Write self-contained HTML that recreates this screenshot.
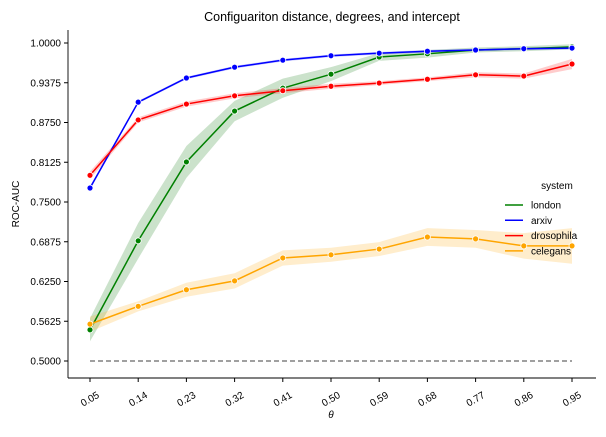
<!DOCTYPE html>
<html><head><meta charset="utf-8"><style>
body{margin:0;background:#fff;font-family:"Liberation Sans",sans-serif}
</style></head><body>
<svg id="chart" width="606" height="432" xmlns="http://www.w3.org/2000/svg" font-family="Liberation Sans, sans-serif">
<text x="332" y="21" text-anchor="middle" font-size="12.5">Configuariton distance, degrees, and intercept</text>
<g id="bands"></g><g id="lines"></g><g id="axes"></g>
</svg>
<script>
const categories=["0.05","0.14","0.23","0.32","0.41","0.50","0.59","0.68","0.77","0.86","0.95"];
const yTicks=[0.5,0.5625,0.625,0.6875,0.75,0.8125,0.875,0.9375,1.0];
const londonVals=[0.549,0.689,0.813,0.893,0.929,0.951,0.978,0.983,0.989,0.991,0.994];
const londonErr=[0.018,0.028,0.025,0.016,0.015,0.011,0.006,0.006,0.004,0.004,0.004];
const arxivVals=[0.772,0.907,0.945,0.962,0.973,0.980,0.984,0.987,0.989,0.991,0.992];
const arxivErr=[0.003,0.002,0.002,0.002,0.002,0.002,0.002,0.002,0.002,0.002,0.002];
const drosVals=[0.792,0.879,0.904,0.917,0.925,0.932,0.937,0.943,0.950,0.948,0.967];
const drosErr=[0.006,0.004,0.004,0.004,0.004,0.004,0.003,0.003,0.004,0.004,0.008];
const celVals=[0.558,0.586,0.612,0.626,0.662,0.667,0.676,0.695,0.692,0.681,0.681];
const celErr=[0.012,0.008,0.011,0.012,0.012,0.011,0.011,0.014,0.014,0.020,0.028];
const seriesNames=["london","arxiv","drosophila","celegans"];
const colors=["green","blue","red","orange"];
const fills=["#2e8b2e","#3333ff","#ff3333","#ffb733"];
const NS="http://www.w3.org/2000/svg";
const X=i=>90+i*48.2;
const Y=v=>361-(v-0.5)/0.0625*39.75;
function mk(tag,attrs,parent){const e=document.createElementNS(NS,tag);for(const k in attrs)e.setAttribute(k,attrs[k]);parent.appendChild(e);return e;}
const bands=document.getElementById('bands'),lines=document.getElementById('lines'),axes=document.getElementById('axes');
const base=mk('line',{x1:X(0),x2:X(10),y1:Y(0.5),y2:Y(0.5),stroke:'#808080','stroke-width':1.5,'stroke-dasharray':'5,3'},lines);


const all=[[londonVals,londonErr],[arxivVals,arxivErr],[drosVals,drosErr],[celVals,celErr]];
all.forEach(([vals,err],s)=>{
 let up=vals.map((v,i)=>X(i)+','+Y(v+err[i])),lo=vals.map((v,i)=>X(i)+','+Y(v-err[i])).reverse();
 const b=mk('polygon',{points:up.concat(lo).join(' '),fill:fills[s],'fill-opacity':0.25},bands);
 
 
 const l=mk('polyline',{points:vals.map((v,i)=>X(i)+','+Y(v)).join(' '),fill:'none',stroke:colors[s],'stroke-width':1.5},lines);
 
 
 vals.forEach((v,i)=>{const c=mk('circle',{cx:X(i),cy:Y(v),r:3,fill:colors[s],stroke:'#fff','stroke-width':0.8},lines);
  
  });
});
const ax=mk('line',{x1:68,x2:68,y1:30,y2:378,stroke:'#000','stroke-width':0.9},axes);

const bx=mk('line',{x1:68,x2:596,y1:378,y2:378,stroke:'#000','stroke-width':0.9},axes);

yTicks.forEach(t=>{mk('line',{x1:64,x2:68,y1:Y(t),y2:Y(t),stroke:'#000'},axes);
 const tx=mk('text',{x:61,y:Y(t)+3.5,'text-anchor':'end','font-size':10},axes);tx.textContent=t.toFixed(4);
 });
categories.forEach((c,i)=>{mk('line',{x1:X(i),x2:X(i),y1:378,y2:382,stroke:'#000'},axes);
 const ax2=X(i)+10, ay=397;
 const tx=mk('text',{x:ax2,y:ay,'text-anchor':'end','font-size':10,transform:`rotate(-30 ${ax2} ${ay})`},axes);tx.textContent=c;
 });
const yl=mk('text',{x:19,y:204,'text-anchor':'middle','font-size':10,transform:'rotate(-90 19 204)'},axes);yl.textContent='ROC-AUC';

const xl=mk('text',{x:331,y:418,'text-anchor':'middle','font-size':10,'font-style':'italic'},axes);xl.textContent='θ';

const lt=mk('text',{x:557,y:189,'text-anchor':'middle','font-size':10},axes);lt.textContent='system';

seriesNames.forEach((n,s)=>{const y=205+s*15.3;
 const g=mk('g',{},axes);
 
 
 mk('line',{x1:505,x2:523,y1:y,y2:y,stroke:colors[s],'stroke-width':1.5},g);
 const t=mk('text',{x:531,y:y+3.5,'font-size':10},g);t.textContent=n;});
</script>
</body></html>
